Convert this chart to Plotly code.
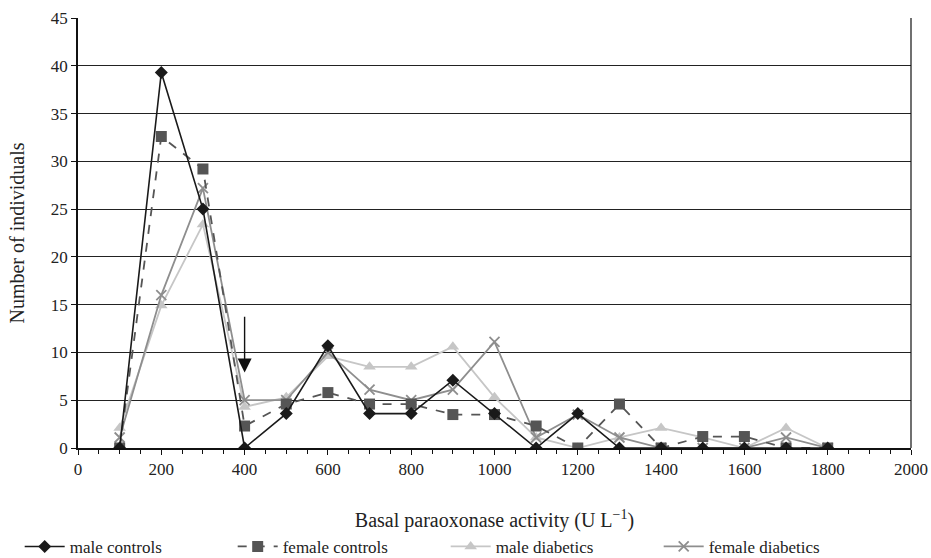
import plotly.graph_objects as go

activity = [100, 200, 300, 400, 500, 600, 700, 800, 900, 1000, 1100, 1200, 1300, 1400, 1500, 1600, 1700, 1800]
male_controls = [0, 39.3, 25.0, 0, 3.6, 10.7, 3.6, 3.6, 7.1, 3.6, 0, 3.6, 0, 0, 0, 0, 0, 0]
female_controls = [0, 32.6, 29.2, 2.3, 4.6, 5.8, 4.6, 4.6, 3.5, 3.5, 2.3, 0, 4.6, 0, 1.2, 1.2, 0, 0]
male_diabetics = [2.1, 14.9, 23.4, 4.3, 5.3, 9.6, 8.5, 8.5, 10.6, 5.3, 1.1, 0, 1.1, 2.1, 1.1, 0, 2.1, 0]
female_diabetics = [1.1, 16.0, 27.2, 5.0, 5.0, 10.0, 6.1, 5.0, 6.1, 11.1, 1.1, 3.5, 1.1, 0, 0, 0, 1.1, 0]

y_ticks = [0, 5, 10, 15, 20, 25, 30, 35, 40, 45]
x_ticks = [0, 200, 400, 600, 800, 1000, 1200, 1400, 1600, 1800, 2000]

FONT = "Liberation Serif"

fig = go.Figure()
fig.add_trace(go.Scatter(
    x=activity, y=male_diabetics, name="male diabetics", mode="lines+markers", legendrank=3,
    line=dict(color="#c6c6c6", width=1.8),
    marker=dict(symbol="triangle-up", size=11, color="#c6c6c6")))
fig.add_trace(go.Scatter(
    x=activity, y=female_diabetics, name="female diabetics", mode="lines+markers", legendrank=4,
    line=dict(color="#8e8e8e", width=1.8),
    marker=dict(symbol="x-thin", size=10, line=dict(color="#8e8e8e", width=1.8))))
fig.add_trace(go.Scatter(
    x=activity, y=female_controls, name="female controls", mode="lines+markers", legendrank=2,
    line=dict(color="#555555", width=1.8, dash="dash"),
    marker=dict(symbol="square", size=11, color="#555555")))
fig.add_trace(go.Scatter(
    x=activity, y=male_controls, name="male controls", mode="lines+markers", legendrank=1,
    line=dict(color="#1a1a1a", width=1.6),
    marker=dict(symbol="diamond", size=10, color="#1a1a1a")))

fig.add_annotation(x=400, y=7.9, ax=400, ay=13.9, xref="x", yref="y", axref="x", ayref="y",
                   showarrow=True, arrowhead=2, arrowsize=2, arrowwidth=1.4,
                   arrowcolor="#111111", text="")

fig.update_layout(
    width=931, height=558,
    margin=dict(l=78, r=20, t=18, b=110, autoexpand=False),
    paper_bgcolor="white", plot_bgcolor="white",
    font=dict(family=FONT, size=17, color="#222222"),
    legend=dict(orientation="h", x=-0.07, xanchor="left", y=-0.23, yanchor="middle",
                font=dict(family=FONT, size=17),
                itemwidth=40, entrywidth=158, tracegroupgap=0),
    xaxis=dict(range=[0, 2000], tickvals=x_ticks, showgrid=False, zeroline=False,
               showline=True, linecolor="#111111", linewidth=1.5, mirror=False,
               ticks="outside", ticklen=5, tickcolor="#111111",
               minor=dict(dtick=50, ticks="outside", ticklen=4, tickcolor="#111111", showgrid=False),
               title=dict(text="Basal paraoxonase activity (U L<sup>\u22121</sup>)", standoff=35),
               tickfont=dict(size=17)),
    yaxis=dict(range=[0, 45], tickvals=y_ticks, showgrid=True, gridcolor="#222222", gridwidth=1.2,
               zeroline=False, showline=True, linecolor="#111111", linewidth=1.5,
               ticks="outside", ticklen=5, tickcolor="#111111",
               title=dict(text="Number of individuals", standoff=21),
               tickfont=dict(size=17)),
)
fig.add_shape(type="line", xref="paper", yref="paper", x0=1, x1=1, y0=0, y1=1,
              line=dict(color="#111111", width=1.2))

fig.write_html("out.html", config={"displayModeBar": False},
               post_script="document.body.style.margin='0';document.body.style.overflow='hidden';")
